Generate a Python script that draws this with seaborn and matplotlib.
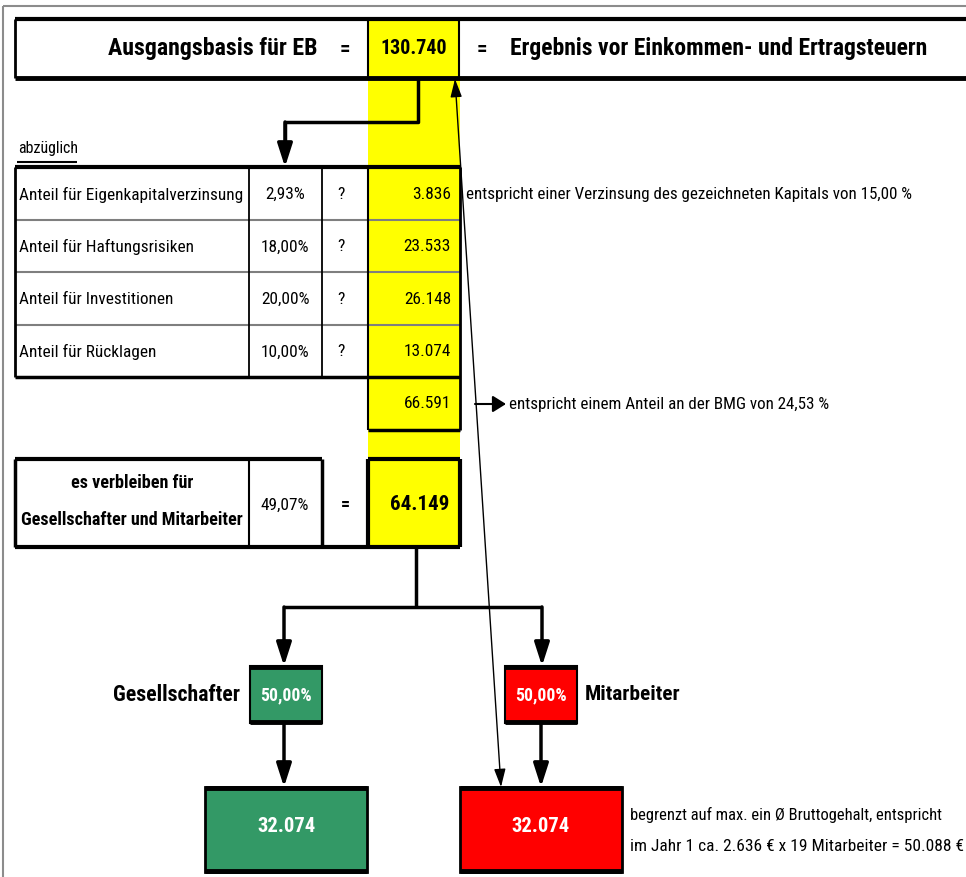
import matplotlib
matplotlib.use("Agg")
import matplotlib.pyplot as plt
import seaborn as sns
from matplotlib import font_manager
from matplotlib.font_manager import FontProperties
from matplotlib.patches import Rectangle

# ---------------- data ----------------
base_label = "Ausgangsbasis für EB"
base_value = 130740
base_note = "Ergebnis vor Einkommen- und Ertragsteuern"
deduct_header = "abzüglich"
categories = ["Anteil für Eigenkapitalverzinsung", "Anteil für Haftungsrisiken",
              "Anteil für Investitionen", "Anteil für Rücklagen"]
shares = ["2,93%", "18,00%", "20,00%", "10,00%"]
amounts = [3836, 23533, 26148, 13074]
deduct_total = 66591
note_first = "entspricht einer Verzinsung des gezeichneten Kapitals von 15,00 %"
note_total = "entspricht einem Anteil an der BMG von 24,53 %"
remain_label = ["es verbleiben für", "Gesellschafter und Mitarbeiter"]
remain_share = "49,07%"
remain_value = 64149
split_labels = ["Gesellschafter", "Mitarbeiter"]
split_shares = ["50,00%", "50,00%"]
split_values = [32074, 32074]
split_note = ["begrenzt auf max. ein Ø Bruttogehalt, entspricht",
              "im Jahr 1 ca. 2.636 € x 19 Mitarbeiter = 50.088 €"]


def de(v):
    return f"{v:,}".replace(",", ".")


sns.set_theme(style="white")
plt.rcParams["font.family"] = ["Liberation Sans", "DejaVu Sans"]


# ------------- pick the narrowest available sans font -------------
def _w(v):
    if isinstance(v, str):
        return font_manager.weight_dict.get(v.lower(), 400)
    return v


def _s(v):
    if isinstance(v, str):
        return font_manager.stretch_dict.get(v.lower(), 500)
    return v


def pick_fonts():
    prefs = ["Liberation Sans Narrow", "Arial Narrow", "Roboto Condensed",
             "Open Sans Condensed", "Noto Sans Condensed", "Lato Condensed",
             "DejaVu Sans Condensed"]
    table = {}
    for f in font_manager.fontManager.ttflist:
        if f.style != "normal":
            continue
        name = f.name
        if _s(f.stretch) < 500 and "Condensed" not in name and "Narrow" not in name:
            name = name + " Condensed"
        w = _w(f.weight)
        kind = "bold" if w >= 650 else ("regular" if 350 <= w <= 500 else None)
        if kind is None:
            continue
        table.setdefault(name, {}).setdefault(kind, f.fname)
    for p in prefs:
        if p in table and "regular" in table[p] and "bold" in table[p]:
            return table[p]["regular"], table[p]["bold"]
    reg = font_manager.findfont(FontProperties(family="Liberation Sans"))
    bold = font_manager.findfont(FontProperties(family="Liberation Sans", weight="bold"))
    return reg, bold


REG, BOLD = pick_fonts()

GREEN = "#339966"
RED = "#FF0000"
YELLOW = "#FFFF00"

fig = plt.figure(figsize=(9.66, 8.78), dpi=100)
ax = fig.add_axes([0, 0, 1, 1])
ax.set_xlim(0, 966)
ax.set_ylim(878, 0)
ax.axis("off")
renderer = fig.canvas.get_renderer()


def fitsize(s, width, bold=False):
    fp = FontProperties(fname=BOLD if bold else REG, size=12)
    t = ax.text(400, 400, s, fontproperties=fp)
    w = t.get_window_extent(renderer).width
    t.remove()
    return 12 * width / w


def T(x, y, s, size=12, bold=False, ha="left", color="black", width=None, boost=1.0):
    if width is not None:
        size = fitsize(s, width, bold) * boost
    fp = FontProperties(fname=BOLD if bold else REG, size=size)
    ax.text(x, y, s, fontproperties=fp, ha=ha, va="center", color=color, zorder=6)
    return size


def L(xs, ys, lw=1.5, color="black", z=3):
    ax.plot(xs, ys, color=color, lw=lw, solid_capstyle="butt", zorder=z)


def arrow(x0, y0, x1, y1, lw=2.5, hl=13, hw=4.5, style="-|>"):
    ax.annotate("", xy=(x1, y1), xytext=(x0, y0),
                arrowprops=dict(arrowstyle=f"{style},head_length={hl},head_width={hw}",
                                mutation_scale=1, lw=lw, color="black",
                                shrinkA=0, shrinkB=0), zorder=5)


# outer frame
L([3, 3], [7, 878], lw=1.5, color="#8c8c8c")
L([3, 966], [7, 7], lw=1.5, color="#8c8c8c")

# yellow column
ax.add_patch(Rectangle((368, 20), 92, 528, facecolor=YELLOW, edgecolor="none", zorder=1))

# top box
L([15, 966], [20, 20], lw=3)
L([15, 966], [79, 79], lw=3.5)
L([15, 15], [20, 79], lw=2)
L([368, 368], [20, 79], lw=1.5)
L([459, 459], [20, 79], lw=1.5)
T(317, 49, base_label, bold=True, ha="right", width=199, boost=1.05)
T(345, 49, "=", 15, bold=True, ha="center")
T(414, 49, de(base_value), bold=True, ha="center", width=66)
T(482, 49, "=", 15, bold=True, ha="center")
T(510, 49, base_note, bold=True, width=399, boost=1.05)

# connector to table
L([418, 418, 285], [79, 123, 123], lw=2.5)
L([285, 285], [123, 150], lw=2.5)
arrow(285, 123, 285, 168, lw=2.5, hl=14, hw=4.5)

# abzüglich
T(18, 149, deduct_header, width=60)
L([17, 77], [163, 163], lw=1.5)

# table
fs_tab = fitsize(categories[0], 215) * 1.04
row_edges = [168, 221, 273, 326, 378]
for i, (cat, sh, am) in enumerate(zip(categories, shares, amounts)):
    yc = (row_edges[i] + row_edges[i + 1]) / 2
    T(19, yc, cat, fs_tab)
    T(285, yc, sh, fs_tab, ha="center")
    T(341, yc, "?", fs_tab, ha="center")
    T(451, yc, de(am), fs_tab, ha="right")
for y in row_edges[1:-1]:
    L([15, 460], [y, y], lw=1.5, color="#7f7f7f")
L([15, 460], [168, 168], lw=3)
L([15, 460], [378, 378], lw=2.5)
L([15, 15], [168, 378], lw=2)
for x in (249, 322):
    L([x, x], [168, 378], lw=1.3)
L([368, 368], [168, 431], lw=1.5)
L([460, 460], [168, 431], lw=2)
L([368, 460], [431, 431], lw=2.5)
T(451, 404, de(deduct_total), fs_tab, ha="right")
T(466, 194.5, note_first, width=446)

# arrow to BMG note
arrow(475, 405, 506, 405, lw=1.5, hl=8, hw=5)
T(509, 405, note_total, width=320)

# thin double arrow
arrow(501, 788, 455, 80, lw=1.0, hl=11, hw=3.5, style="<|-|>")

# remaining box
L([15, 322], [460, 460], lw=3)
L([15, 460], [548, 548], lw=3)
L([368, 460], [460, 460], lw=3)
L([15, 15], [460, 548], lw=2.5)
L([249, 249], [460, 548], lw=1.5)
L([322, 322], [460, 548], lw=2.5)
L([368, 368], [460, 548], lw=3)
L([460, 460], [460, 548], lw=3)
fs_rem = T(132, 520, remain_label[1], bold=True, ha="center", width=219, boost=1.02)
T(132, 483, remain_label[0], fs_rem, bold=True, ha="center")
T(285, 505, remain_share, fs_tab, ha="center")
T(345, 505, "=", fs_rem, bold=True, ha="center")
T(449, 505, de(remain_value), bold=True, ha="right", width=56, boost=1.05)

# split connector
L([416, 416], [548, 608], lw=2.5)
L([284, 542], [608, 608], lw=2.5)
for x in (284, 542):
    arrow(x, 608, x, 667, lw=2.5, hl=14, hw=4.5)

# small share boxes
small = [(250, GREEN), (505, RED)]
for (x0, col), sh in zip(small, split_shares):
    ax.add_patch(Rectangle((x0, 667), 72, 57, facecolor=col, edgecolor="black",
                           lw=1.5, zorder=2))
    L([x0, x0 + 72], [668, 668], lw=3.5)
    L([x0, x0 + 72], [723, 723], lw=3.5)
    T(x0 + 36, 695, sh, bold=True, ha="center", color="white", width=51)
T(240, 695, split_labels[0], bold=True, ha="right", width=127)
T(585, 695, split_labels[1], bold=True, width=96)

for x in (284, 541):
    arrow(x, 724, x, 788, lw=2.5, hl=14, hw=4.5)

# big result boxes
big = [(205, GREEN), (460, RED)]
for (x0, col), v in zip(big, split_values):
    ax.add_patch(Rectangle((x0, 788), 162, 85, facecolor=col, edgecolor="black",
                           lw=2, zorder=2))
    L([x0, x0 + 162], [789, 789], lw=3.5)
    L([x0, x0 + 162], [872, 872], lw=3.5)
    T(x0 + 81, 827, de(v), bold=True, ha="center", color="white", width=55, boost=1.05)

T(630, 815, split_note[0], width=311)
T(630, 847, split_note[1], width=333)

fig.savefig("out.png", dpi=100, facecolor="white")
